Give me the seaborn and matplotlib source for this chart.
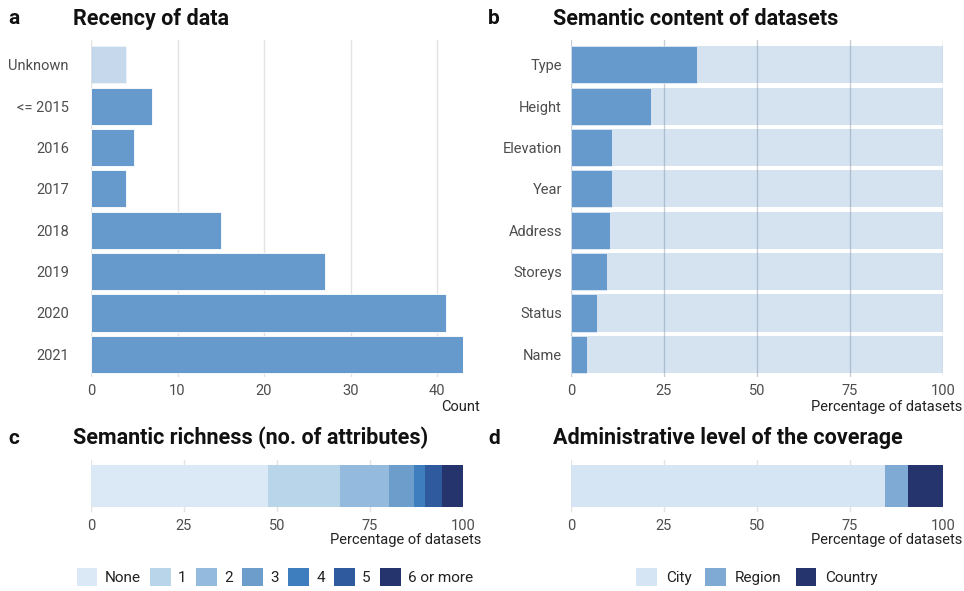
import matplotlib
matplotlib.use("Agg")
import matplotlib.pyplot as plt
import seaborn as sns
import numpy as np
import pandas as pd
from matplotlib.patches import Patch

# ---- data ----
recency_labels = ["Unknown", "<= 2015", "2016", "2017", "2018", "2019", "2020", "2021"]
recency_counts = [4, 7, 5, 4, 15, 27, 41, 43]

semantic_labels = ["Type", "Height", "Elevation", "Year", "Address", "Storeys", "Status", "Name"]
semantic_pct = [33.8, 21.4, 11.0, 11.0, 10.4, 9.7, 7.0, 4.3]

richness_labels = ["None", "1", "2", "3", "4", "5", "6 or more"]
richness_pct = [47.6, 19.3, 13.1, 6.8, 2.9, 4.7, 5.6]

admin_labels = ["City", "Region", "Country"]
admin_pct = [84.5, 6.0, 9.5]

x_ticks_count = [0, 10, 20, 30, 40]
x_ticks_pct = [0, 25, 50, 75, 100]

# ---- style ----
sns.set_theme(style="white")
plt.rcParams['font.family'] = ['Roboto', 'DejaVu Sans']

BLUE = "#6699CC"
richness_colors = ["#DAE9F5", "#B9D5EA", "#94BADD", "#6C9DCB", "#3F7EBE", "#2F5A9E", "#26346E"]
admin_colors = ["#D5E5F3", "#7EAAD4", "#26346E"]
GRID = "#E3E3E3"
TICK = "#4D4D4D"

W, H = 964, 591
fig = plt.figure(figsize=(W / 100, H / 100), dpi=100)


def ax_px(l, t, r, b):
    return fig.add_axes([l / W, 1 - b / H, (r - l) / W, (b - t) / H])


def style_ax(ax, xticks, xmax, xlabel, ypad):
    ax.set_xlim(0, xmax)
    ax.set_xticks(xticks)
    ax.xaxis.grid(True, color=GRID, linewidth=1.0)
    ax.yaxis.grid(False)
    for s in ax.spines.values():
        s.set_visible(False)
    ax.tick_params(axis="x", length=0, pad=5, labelsize=10.5, labelcolor=TICK)
    ax.tick_params(axis="y", length=0, pad=ypad, labelsize=10.5, labelcolor=TICK)
    ax.set_ylabel("")
    ax.set_xlabel(xlabel, fontsize=10.5, color="#222222", ha="right")
    ax.set_axisbelow(True)


# ---- panel a ----
axa = ax_px(91, 40, 463, 377)
df_a = pd.DataFrame({"label": recency_labels, "count": recency_counts})
sns.barplot(data=df_a, y="label", x="count", order=recency_labels, color=BLUE,
            width=0.9, ax=axa, saturation=1, edgecolor="white", linewidth=0.6)
axa.patches[0].set_alpha(0.37)
axa.set_ylim(7.55, -0.6)
style_ax(axa, x_ticks_count, 43, "Count", 16)
axa.xaxis.set_label_coords(389 / 372, -0.068)

# ---- panel b ----
axb = ax_px(571, 40, 943, 377)
df_b = pd.DataFrame({"label": semantic_labels, "pct": semantic_pct,
                     "full": [100] * len(semantic_labels)})
sns.barplot(data=df_b, y="label", x="full", order=semantic_labels, color=BLUE,
            width=0.9, ax=axb, saturation=1, alpha=0.27, linewidth=0)
sns.barplot(data=df_b, y="label", x="pct", order=semantic_labels, color=BLUE,
            width=0.9, ax=axb, saturation=1, edgecolor="white", linewidth=0.4)
axb.set_ylim(7.55, -0.6)
style_ax(axb, x_ticks_pct, 100, "Percentage of datasets", 6.5)
axb.xaxis.grid(True, color="#C8CDD4", linewidth=1.0)
axb.xaxis.set_label_coords(391 / 372, -0.068)

# ---- panel c ----
axc = ax_px(91, 460, 463, 512)
left = np.concatenate([[0], np.cumsum(richness_pct)[:-1]])
axc.barh([0] * len(richness_pct), richness_pct, left=left, height=0.8,
         color=richness_colors, linewidth=0)
axc.set_ylim(-0.5, 0.5)
axc.set_yticks([])
style_ax(axc, x_ticks_pct, 100, "Percentage of datasets", 0)
axc.xaxis.set_label_coords(390 / 372, -0.4)

# ---- panel d ----
axd = ax_px(571, 460, 943, 512)
left = np.concatenate([[0], np.cumsum(admin_pct)[:-1]])
axd.barh([0] * len(admin_pct), admin_pct, left=left, height=0.8,
         color=admin_colors, linewidth=0)
axd.set_ylim(-0.5, 0.5)
axd.set_yticks([])
style_ax(axd, x_ticks_pct, 100, "Percentage of datasets", 0)
axd.xaxis.set_label_coords(391 / 372, -0.4)

# ---- titles ----
def title(x, y, letter, text):
    fig.text(8 / W + (x - 73) / W, 1 - y / H, letter, fontsize=15, fontweight="bold",
             va="center", ha="left", color="#111111")
    fig.text(x / W, 1 - y / H, text, fontsize=15.5, fontweight="bold",
             va="center", ha="left", color="#111111")

title(73, 19, "a", "Recency of data")
title(553, 19, "b", "Semantic content of datasets")
title(73, 438, "c", "Semantic richness (no. of attributes)")
title(553, 438, "d", "Administrative level of the coverage")

# ---- legends ----
h_c = [Patch(facecolor=c, edgecolor="none") for c in richness_colors]
fig.legend(h_c, richness_labels, loc="center", bbox_to_anchor=(275 / W, 1 - 577 / H),
           ncol=7, frameon=False, fontsize=11, handlelength=1.35, handleheight=1.35,
           handletextpad=0.5, columnspacing=0.6, labelcolor="#222222")
h_d = [Patch(facecolor=c, edgecolor="none") for c in admin_colors]
fig.legend(h_d, admin_labels, loc="center", bbox_to_anchor=(757 / W, 1 - 577 / H),
           ncol=3, frameon=False, fontsize=11, handlelength=1.35, handleheight=1.35,
           handletextpad=0.6, columnspacing=0.9, labelcolor="#222222")

fig.savefig("out.png", dpi=100)
